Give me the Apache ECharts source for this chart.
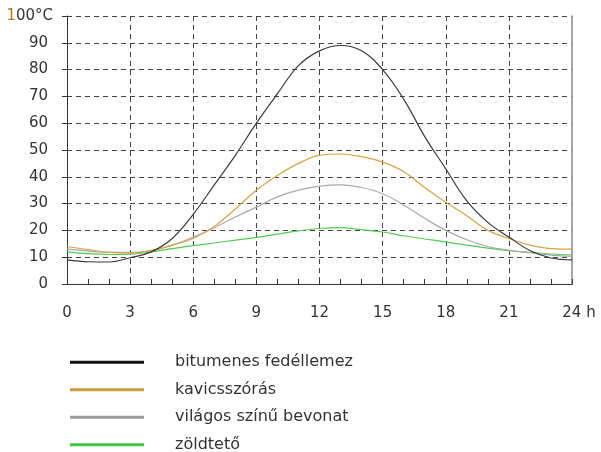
<!DOCTYPE html>
<html>
<head>
<meta charset="utf-8">
<script src="https://cdn.jsdelivr.net/npm/echarts@6/dist/echarts.min.js"></script>
<style>html,body{margin:0;padding:0;background:#fff}#c{width:601px;height:452px}</style>
</head>
<body>
<div id="c"></div>
<script>
const hours = [0,1,2,3,4,5,6,7,8,9,10,11,12,13,14,15,16,17,18,19,20,21,22,23,24];
const seriesNames = ['bitumenes fedéllemez','kavicsszórás','világos színű bevonat','zöldtető'];
const bitumen = [9,8.3,8.2,9.8,12,17,26,37,48,60,71,81.5,87,89,87,80,69,55,43,31,23,17.5,12.5,9.7,9];
const kavics = [14,12.8,11.8,11.5,12.5,14.5,17,21.5,28,35,40.5,45,48,48.5,47.5,45.5,42,36,30.5,25.5,20,17,14.5,13.2,13];
const vilagos = [13,12.3,11.8,11.8,12.5,14.5,17.5,21,25,28.7,32.5,35,36.5,37,36,33.7,29.5,24.5,20,16.5,14,12.6,11.7,10.8,10.3];
const zold = [12,11.3,11,11.1,12,13.2,14.3,15.3,16.4,17.4,18.6,19.8,20.7,21,20.3,19.4,18,16.8,15.7,14.5,13.4,12.4,11.8,11.2,10.9];
const xTicks = [0,3,6,9,12,15,18,21,24];
const yTicks = [0,10,20,30,40,50,60,70,80,90,100];

const colors = ['#3a3a3a','#d3a448','#a9a9a9','#55c955'];
const legendColors = ['#111111','#c99a3c','#999999','#44c444'];
const font = 'DejaVu Sans';
const data = [bitumen, kavics, vilagos, zold];

const chart = echarts.init(document.getElementById('c'), null, {renderer:'canvas'});
const gridDash = [5,4];
chart.setOption({
  animation:false,
  backgroundColor:'#fff',
  grid:{left:67,right:29,top:16,bottom:168},
  legend:{
    orient:'vertical', left:65, top:349.2, height:130,
    icon:'rect', itemWidth:74, itemHeight:3, itemGap:11.5,
    textStyle:{fontFamily:font,fontSize:16,color:'#333',lineHeight:16,padding:[0,0,0,26]},
    data: seriesNames.map((n,i)=>({name:n,itemStyle:{color:legendColors[i]}}))
  },
  xAxis:{
    type:'value', min:xTicks[0], max:xTicks[xTicks.length-1], interval:3,
    axisLine:{show:true,lineStyle:{color:'#333',width:1}},
    axisTick:{show:true,inside:true,length:5,lineStyle:{color:'#333'}},
    minorTick:{show:true,splitNumber:3,length:5,lineStyle:{color:'#333'}},
    splitLine:{show:true,lineStyle:{type:gridDash,width:1,color:['#444','#444','#444','#444','#444','#444','#444','#444','rgba(0,0,0,0)']}},
    axisLabel:{
      margin:22, fontFamily:font, fontSize:15, color:'#333',
      formatter:function(v){ return v===24 ? '{s|}24 h' : String(v); },
      rich:{s:{width:14}}
    }
  },
  yAxis:[{
    type:'value', min:yTicks[0], max:yTicks[yTicks.length-1], interval:10,
    axisLine:{show:true,lineStyle:{color:'#333',width:1}},
    axisTick:{show:true,length:5,lineStyle:{color:'#333'}},
    splitLine:{show:true,lineStyle:{type:gridDash,width:1,color:'#444'}},
    axisLabel:{
      margin:14, fontFamily:font, fontSize:15, color:'#333',
      formatter:function(v){ return v===100 ? '{o|1}{n|00°C}' : '{n|'+v+'}{s|}'; },
      rich:{o:{color:'#b07a1a',fontFamily:font,fontSize:15},n:{color:'#333',fontFamily:font,fontSize:15},s:{width:5}}
    }
  },{
    type:'value', min:0, max:100, position:'right',
    axisLine:{show:true,lineStyle:{color:'#888',width:1.5}},
    axisTick:{show:false}, axisLabel:{show:false}, splitLine:{show:false}
  }],
  series: seriesNames.map((n,i)=>({
    name:n, type:'line', smooth:0.4, showSymbol:false, symbol:'none',
    data: hours.map((h,j)=>[h,data[i][j]]),
    lineStyle:{color:colors[i],width:1.2},
    itemStyle:{color:legendColors[i]},
    z: 10-i
  }))
});
</script>
</body>
</html>
